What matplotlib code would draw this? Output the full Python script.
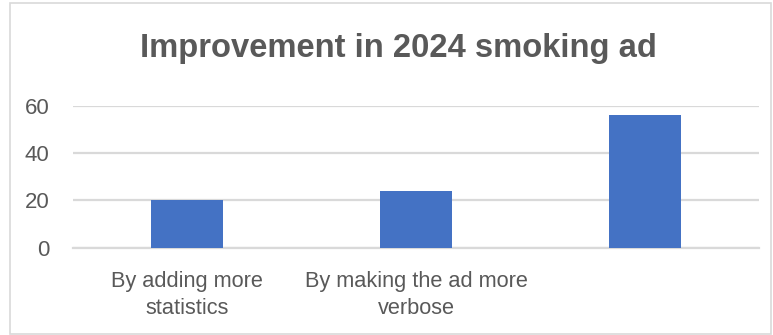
import matplotlib.pyplot as plt
from matplotlib.patches import Rectangle

categories = ["By adding more\nstatistics", "By making the ad more\nverbose", ""]
values = [20, 24, 56]
yticks = [0, 20, 40, 60]

plt.rcParams["font.family"] = ["Liberation Sans", "DejaVu Sans"]

TEXT = "#595959"
GRID = "#D9D9D9"

fig = plt.figure(figsize=(7.73, 3.35), dpi=100)
ax = fig.add_axes([73 / 773, 1 - 247.5 / 335, 686 / 773, 142 / 335])

x = range(len(categories))
ax.bar(x, values, width=0.315, color="#4472C4", zorder=3)

ax.set_xlim(-0.5, len(categories) - 0.5)
ax.set_ylim(0, 60)
ax.set_yticks(yticks)
ax.set_xticks(list(x))
ax.set_xticklabels(categories, fontsize=15.7, color=TEXT, linespacing=1.35)
ax.tick_params(axis="y", labelsize=16, labelcolor=TEXT, length=0, pad=17)
ax.tick_params(axis="x", length=0, pad=17)
ax.grid(axis="y", color=GRID, linewidth=1.6, zorder=0)
for side in ["top", "right", "left"]:
    ax.spines[side].set_visible(False)
ax.spines["bottom"].set_color(GRID)
ax.spines["bottom"].set_linewidth(1.6)

fig.text(398 / 773, 1 - 49 / 335, "Improvement in 2024 smoking ad",
         ha="center", va="center", fontsize=23.6, fontweight="bold", color=TEXT)

# outer chart border
fig.patches.append(Rectangle((10 / 773, 0.002), 761 / 773, 0.99,
                             transform=fig.transFigure, fill=False,
                             edgecolor=GRID, linewidth=1.2))

fig.savefig("out.png", dpi=100)
